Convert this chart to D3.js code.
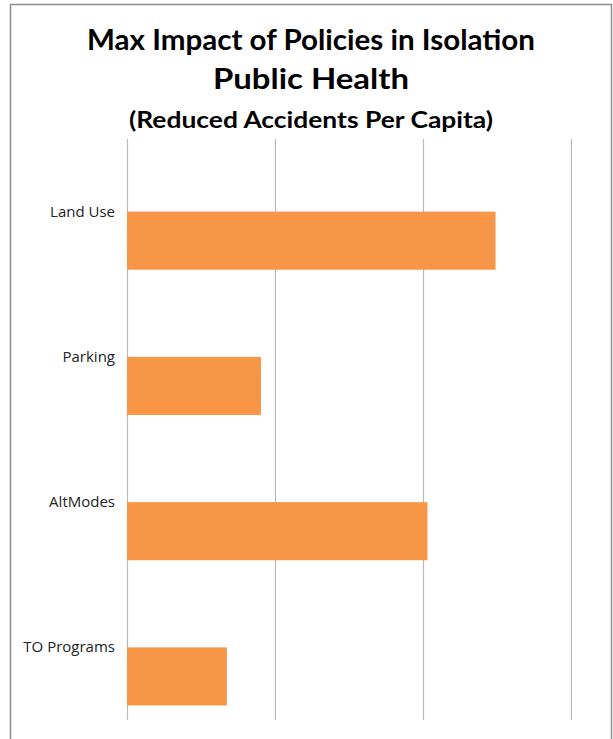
<!DOCTYPE html>
<html><head><meta charset="utf-8">
<script src="https://cdn.jsdelivr.net/npm/d3@7"></script>
<style>body{margin:0;background:#fff;}svg{display:block;}</style>
</head><body>
<svg id="chart" width="613" height="739"></svg>
<script>
const categories = ["Land Use", "Parking", "AltModes", "TO Programs"];
const values = [2.49, 0.905, 2.03, 0.675];
const gridTicks = [0, 1, 2, 3];
const titleLines = ["Max Impact of Policies in Isolation", "Public Health", "(Reduced Accidents Per Capita)"];

const svg = d3.select("#chart");
const W = 613, H = 739;
svg.append("rect").attr("width", W).attr("height", H).attr("fill", "#fff");

// chart border
svg.append("path").attr("d", "M10.5,745 L10.5,4.5 L611.5,4.5 L611.5,745")
  .attr("fill", "none").attr("stroke", "#8c8c8c").attr("stroke-width", 1.5);

const x = d3.scaleLinear().domain([0, 3]).range([127, 571]);
const y = d3.scaleBand().domain(categories).range([139, 720]).paddingInner(0).paddingOuter(0);
const sub = d3.scaleBand().domain(["s0", "s1"]).range([0, y.bandwidth()]).paddingInner(0).paddingOuter(0.25);

// gridlines
svg.append("g").selectAll("line").data(gridTicks).join("line")
  .attr("x1", d => Math.round(x(d)) + 0.5).attr("x2", d => Math.round(x(d)) + 0.5)
  .attr("y1", 139).attr("y2", 720)
  .attr("stroke", "#b8b8b8").attr("stroke-width", 1.2);

// bars
svg.append("g").selectAll("rect").data(categories).join("rect")
  .attr("x", x(0))
  .attr("y", d => y(d) + sub("s1"))
  .attr("width", (d, i) => x(values[i]) - x(0))
  .attr("height", sub.bandwidth())
  .attr("fill", "#f79646");

// category labels
svg.append("g").selectAll("text").data(categories).join("text")
  .attr("x", 115)
  .attr("y", d => y(d) + y.bandwidth() / 2 + 5)
  .attr("text-anchor", "end")
  .attr("font-family", "'Open Sans', Lato, sans-serif")
  .attr("font-size", 15)
  .attr("fill", "#222")
  .text(d => d);

// titles
const tCfg = [
  {y: 50, size: 28, len: 448},
  {y: 89, size: 28, len: 196},
  {y: 128, size: 22.5, len: 364}
];
svg.append("g").selectAll("text").data(titleLines).join("text")
  .attr("x", 311)
  .attr("y", (d, i) => tCfg[i].y)
  .attr("text-anchor", "middle")
  .attr("font-family", "Lato, 'Open Sans', sans-serif")
  .attr("font-weight", "bold")
  .attr("font-size", (d, i) => tCfg[i].size)
  .attr("textLength", (d, i) => tCfg[i].len)
  .attr("lengthAdjust", "spacingAndGlyphs")
  .attr("fill", "#000")
  .text(d => d);
</script>
</body></html>
